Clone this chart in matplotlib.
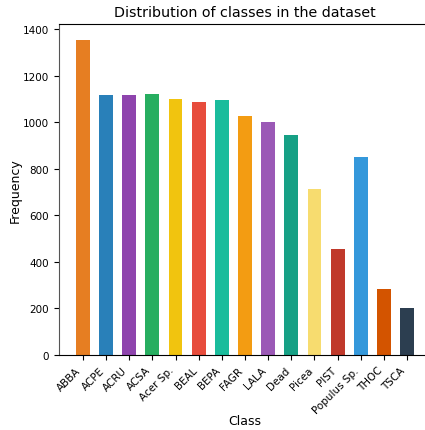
import matplotlib
matplotlib.use('Agg')
import matplotlib.pyplot as plt

# данные
classes = ['ABBA', 'ACPE', 'ACRU', 'ACSA', 'Acer Sp.', 'BEAL', 'BEPA', 'FAGR',
           'LALA', 'Dead', 'Picea', 'PIST', 'Populus Sp.', 'THOC', 'TSCA']
counts = [1355, 1118, 1118, 1122, 1100, 1088, 1097, 1028,
          1002, 946, 714, 457, 852, 285, 203]
colors = ['#e67e22', '#2980b9', '#8e44ad', '#27ae60', '#f1c40f', '#e74c3c',
          '#1abc9c', '#f39c12', '#9b59b6', '#16a085', '#f7dc6f', '#c0392b',
          '#3498db', '#d35400', '#2c3e50']

fig = plt.figure(figsize=(4.25, 4.31), dpi=100)
ax = fig.add_axes([59 / 425, 75 / 431, 372 / 425, 331 / 431])

ax.bar(range(len(classes)), counts, width=0.6, color=colors)
ax.set_xticks(range(len(classes)))
ax.set_xticklabels(classes, rotation=45, ha='right', fontsize=7.5)
ax.tick_params(axis='both', labelsize=7.5)
ax.set_title('Distribution of classes in the dataset', fontsize=10.3)
ax.set_xlabel('Class', fontsize=9)
ax.set_ylabel('Frequency', fontsize=9)
ax.xaxis.set_label_coords(0.5, -0.178)
ax.yaxis.set_label_coords(-0.1, 0.5)
ax.spines['left'].set_color('#555555')

fig.savefig('out.png', dpi=100)
